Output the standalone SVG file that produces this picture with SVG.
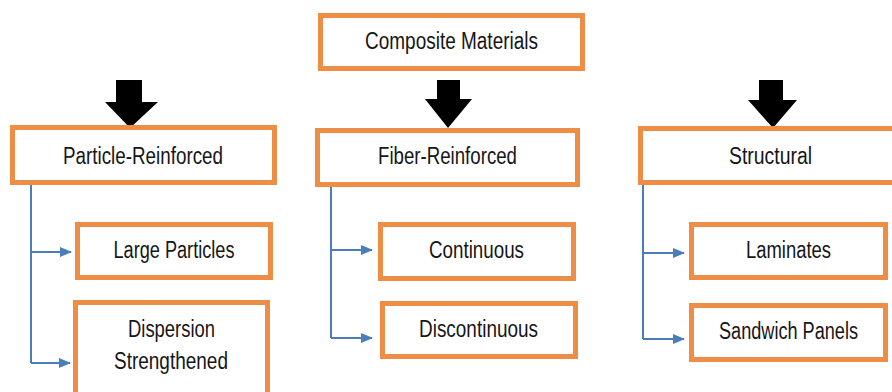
<svg xmlns="http://www.w3.org/2000/svg" width="892" height="392" viewBox="0 0 892 392">
  <defs>
    <style>
      .box { fill: #ffffff; stroke: #EE8D45; stroke-width: 5; }
      .lbl { font-family: "Liberation Sans", Arial, sans-serif; font-size: 23px; fill: #161616; text-anchor: middle; }
      .tree { fill: none; stroke: #4A7EBB; stroke-width: 2; }
      .block { fill: #000000; }
    </style>
    <marker id="tip" viewBox="0 0 12 10" refX="11" refY="5" markerWidth="12" markerHeight="10" markerUnits="userSpaceOnUse" orient="auto">
      <path d="M0,0 L12,5 L0,10 Z" fill="#4A7EBB"/>
    </marker>
  </defs>

  <rect width="892" height="392" fill="#ffffff"/>

  <!-- root -->
  <g id="composite">
    <rect class="box" x="320.5" y="15.5" width="262" height="53"/>
    <text class="lbl" x="451.5" y="48.5" textLength="173" lengthAdjust="spacingAndGlyphs">Composite Materials</text>
  </g>

  <!-- block arrows pointing at the three categories -->
  <g id="block-arrows">
    <path class="block" d="M116,80 H142 V102 H158 L130,128 L105,102 H116 Z"/>
    <path class="block" d="M437,80 H460 V99 H472 L448,128 L425,99 H437 Z"/>
    <path class="block" d="M759,80 H783 V100 H797 L773,128 L748,100 H759 Z"/>
  </g>

  <!-- categories -->
  <g id="particle">
    <rect class="box" x="12.5" y="127.5" width="262" height="55"/>
    <text class="lbl" x="143" y="163.5" textLength="160" lengthAdjust="spacingAndGlyphs">Particle-Reinforced</text>
  </g>
  <g id="fiber">
    <rect class="box" x="317.5" y="130.5" width="260" height="54"/>
    <text class="lbl" x="447.5" y="163.5" textLength="139" lengthAdjust="spacingAndGlyphs">Fiber-Reinforced</text>
  </g>
  <g id="structural">
    <rect class="box" x="640.5" y="128.5" width="260" height="54"/>
    <text class="lbl" x="770.5" y="163.5" textLength="83" lengthAdjust="spacingAndGlyphs">Structural</text>
  </g>

  <!-- sub-types -->
  <g id="large-particles">
    <rect class="box" x="77.5" y="224.5" width="193" height="53"/>
    <text class="lbl" x="174" y="257.5" textLength="121" lengthAdjust="spacingAndGlyphs">Large Particles</text>
  </g>
  <g id="dispersion">
    <rect class="box" x="75.5" y="302.5" width="192" height="100"/>
    <text class="lbl" x="171.5" y="336.5" textLength="87" lengthAdjust="spacingAndGlyphs">Dispersion</text>
    <text class="lbl" x="171" y="368.5" textLength="114" lengthAdjust="spacingAndGlyphs">Strengthened</text>
  </g>
  <g id="continuous">
    <rect class="box" x="380.5" y="224.5" width="193" height="54"/>
    <text class="lbl" x="476.5" y="257.5" textLength="95" lengthAdjust="spacingAndGlyphs">Continuous</text>
  </g>
  <g id="discontinuous">
    <rect class="box" x="382.5" y="303.5" width="193" height="53"/>
    <text class="lbl" x="478.5" y="336.5" textLength="119" lengthAdjust="spacingAndGlyphs">Discontinuous</text>
  </g>
  <g id="laminates">
    <rect class="box" x="691.5" y="224.5" width="194" height="53"/>
    <text class="lbl" x="788.5" y="257.5" textLength="85" lengthAdjust="spacingAndGlyphs">Laminates</text>
  </g>
  <g id="sandwich">
    <rect class="box" x="691.5" y="305.5" width="194" height="54"/>
    <text class="lbl" x="788.5" y="338.5" textLength="139" lengthAdjust="spacingAndGlyphs">Sandwich Panels</text>
  </g>

  <!-- tree connectors -->
  <g id="connectors">
    <path class="tree" d="M31,185 V363"/>
    <path class="tree" d="M31,252 H71" marker-end="url(#tip)"/>
    <path class="tree" d="M31,363 H70" marker-end="url(#tip)"/>
    <path class="tree" d="M331,187 V338"/>
    <path class="tree" d="M331,250 H372" marker-end="url(#tip)"/>
    <path class="tree" d="M331,338 H372" marker-end="url(#tip)"/>
    <path class="tree" d="M643,185 V339"/>
    <path class="tree" d="M643,253 H684" marker-end="url(#tip)"/>
    <path class="tree" d="M643,339 H684" marker-end="url(#tip)"/>
  </g>
</svg>
